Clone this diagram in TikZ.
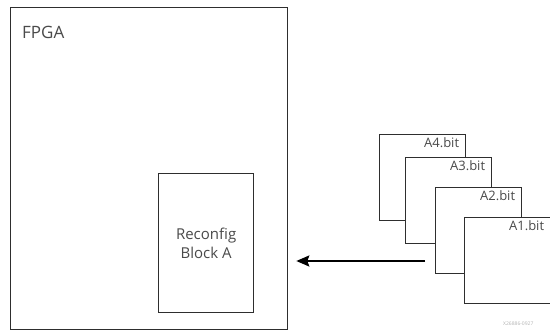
\documentclass[tikz,border=0pt]{standalone}
\usepackage{fontspec}
\setmainfont{Open Sans}
\usetikzlibrary{positioning,arrows.meta}
\definecolor{linegray}{HTML}{2E2E2E}
\definecolor{textgray}{HTML}{4A4A4A}
\tikzset{
  box/.style={draw=linegray, line width=1.3pt, fill=white, anchor=north west, inner sep=0pt},
  lbl/.style={text=textgray, inner sep=2pt},
  feed/.style={draw=black, line width=2pt, -{Stealth[length=13pt, width=11pt, inset=2pt]}}
}

\begin{document}
\begin{tikzpicture}[x=1pt, y=-1pt]
    \useasboundingbox (0,0) rectangle (550,331);

    % FPGA device
    \node[box, minimum width=277pt, minimum height=322pt] (fpga) at (10,7) {};
    \node[lbl, anchor=north west, font=\fontsize{17}{19}\selectfont] (fpganame) at (20,24) {FPGA};

    % Reconfigurable block
    \node[box, minimum width=95pt, minimum height=139pt] (rblock) at (158,173) {};
    \node[lbl, align=center, font=\fontsize{15}{19}\selectfont] (rname) at (rblock.center) {Reconfig\\Block A};

    % Partial bitstreams
    \foreach \name/\x/\y in {A4/379/134, A3/405/157, A2/435/187, A1/464/217} {
        \node[box, minimum width=86pt, minimum height=86pt] (\name) at (\x,\y) {};
        \node[lbl, anchor=north east, font=\fontsize{13}{15}\selectfont] (\name lbl) at ([xshift=-5pt, yshift=-1pt]\name.north east) {\name.bit};
    }

    % Load path
    \coordinate (src) at (425,261);
    \coordinate (dst) at ([xshift=8pt]fpga.east |- src);
    \draw[feed] (src) -- (dst);

    % Figure id
    \node[anchor=west, text=gray!60, font=\fontsize{5}{6}\selectfont, inner sep=0pt] (figid) at (503,324) {X26886-0927};
\end{tikzpicture}
\end{document}
